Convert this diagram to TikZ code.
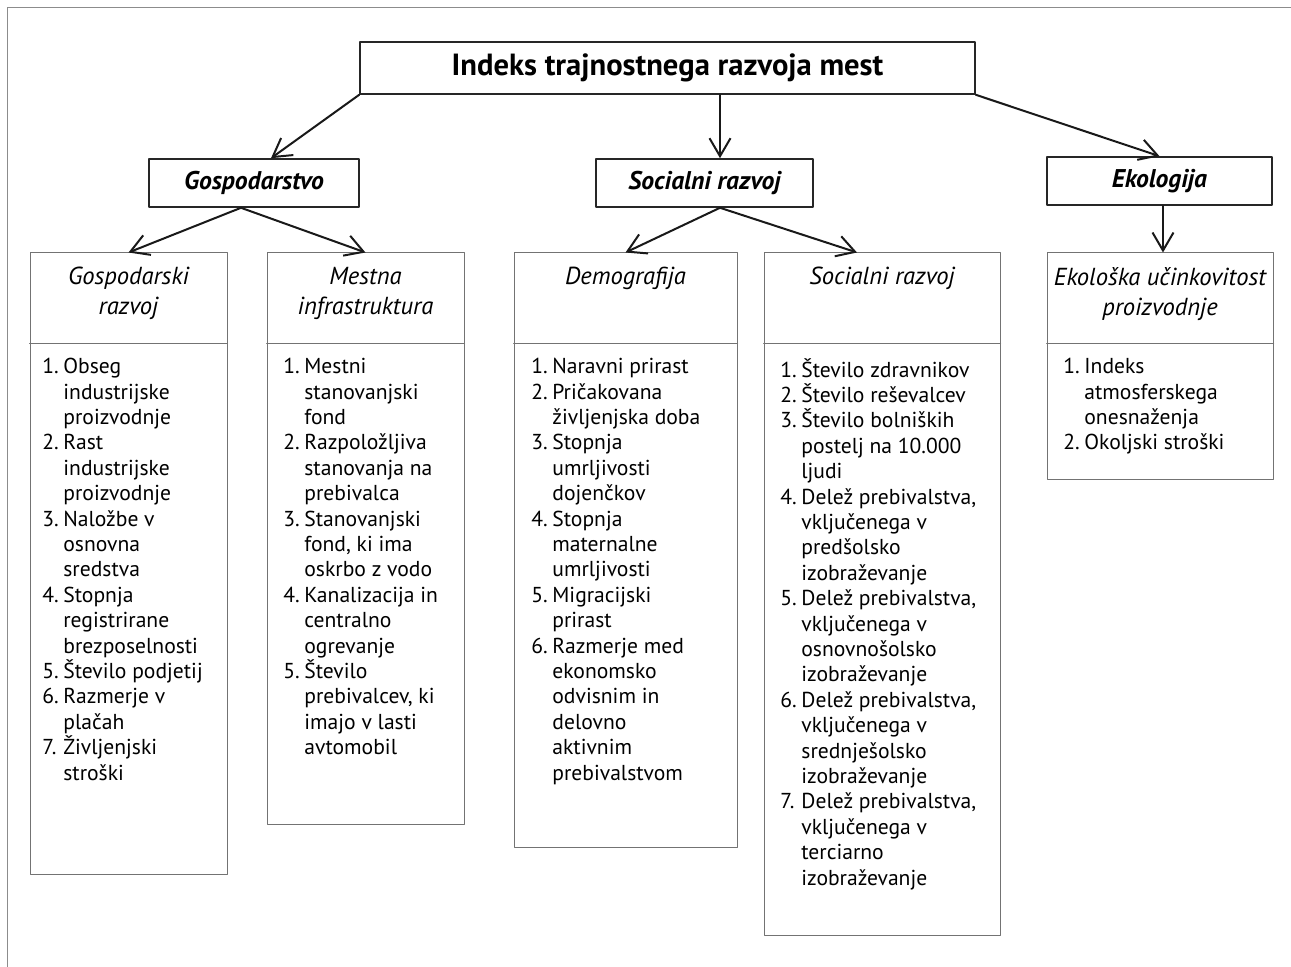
\documentclass[tikz,border=0pt]{standalone}
\usepackage{fontspec}
\setmainfont{PT Sans}
\usetikzlibrary{arrows.meta,fit}

\newcommand\nr[1]{\makebox[10.5pt][l]{#1}}
\newcommand\ind{\hspace*{10.5pt}}

\begin{document}
\begin{tikzpicture}[x=0.5pt,y=-0.5pt,line join=round,line cap=round,
    >={Straight Barb[length=9pt,width=10.5pt]}]
  \tikzset{
    title box/.style={draw=black!85,line width=0.8pt,inner sep=0pt,
      font=\bfseries\fontsize{15.3}{17}\selectfont},
    cat box/.style={draw=black!85,line width=0.8pt,inner sep=0pt,
      font=\bfseries\itshape\fontsize{12.8}{14}\selectfont},
    ind box/.style={draw=black!55,line width=0.5pt,inner sep=0pt},
    div line/.style={draw=black!55,line width=0.5pt},
    head/.style={anchor=north,align=center,inner sep=0pt,
      font=\itshape\fontsize{12.3}{15}\selectfont},
    list/.style={anchor=north west,align=left,inner sep=0pt,
      font=\fontsize{10.8}{12.7}\selectfont},
    arr/.style={->,line width=1pt,black!90}
  }
  \useasboundingbox (0,0) rectangle (1291,967);
  \draw[black!45,line width=0.5pt] (7,967) -- (7,8) -- (1291,8);

  % top levels
  \node[title box,minimum width=307.5pt,minimum height=26pt] (idx) at (667.5,68)
    {Indeks trajnostnega razvoja mest};
  \node[cat box,minimum width=105pt,minimum height=24pt] (gos) at (254,183) {Gospodarstvo};
  \node[cat box,minimum width=108.5pt,minimum height=24pt] (soc) at (704.5,183) {Socialni razvoj};
  \node[cat box,minimum width=112.5pt,minimum height=24pt] (eko) at (1159.5,181) {Ekologija};

  % indicator boxes
  \node[ind box,fit={(30,253) (227,874)}] (gr) {};
  \node[ind box,fit={(267,253) (464,824)}] (mi) {};
  \node[ind box,fit={(514,253) (737,847)}] (de) {};
  \node[ind box,fit={(764,253) (1000,935)}] (sr) {};
  \node[ind box,fit={(1047,253) (1273,480)}] (ep) {};
  \foreach \b in {gr,mi,de,sr,ep}
    \draw[div line] (\b.west |- 0,344) -- (\b.east |- 0,344);

  \node[head] (grh) at (128.5,267) {Gospodarski\\razvoj};
  \node[head] (mih) at (365.5,267) {Mestna\\infrastruktura};
  \node[head] (deh) at (625.5,267) {Demografija};
  \node[head] (srh) at (882,267) {Socialni razvoj};
  \node[head] (eph) at (1160,267) {Ekološka učinkovitost\\proizvodnje};

  \node[list] (grl) at (42,358) {\nr{1.}Obseg\\\ind industrijske\\\ind proizvodnje\\
    \nr{2.}Rast\\\ind industrijske\\\ind proizvodnje\\
    \nr{3.}Naložbe v\\\ind osnovna\\\ind sredstva\\
    \nr{4.}Stopnja\\\ind registrirane\\\ind brezposelnosti\\
    \nr{5.}Število podjetij\\
    \nr{6.}Razmerje v\\\ind plačah\\
    \nr{7.}Življenjski\\\ind stroški};
  \node[list] (mil) at (283,358) {\nr{1.}Mestni\\\ind stanovanjski\\\ind fond\\
    \nr{2.}Razpoložljiva\\\ind stanovanja na\\\ind prebivalca\\
    \nr{3.}Stanovanjski\\\ind fond, ki ima\\\ind oskrbo z vodo\\
    \nr{4.}Kanalizacija in\\\ind centralno\\\ind ogrevanje\\
    \nr{5.}Število\\\ind prebivalcev, ki\\\ind imajo v lasti\\\ind avtomobil};
  \node[list] (del) at (531,358) {\nr{1.}Naravni prirast\\
    \nr{2.}Pričakovana\\\ind življenjska doba\\
    \nr{3.}Stopnja\\\ind umrljivosti\\\ind dojenčkov\\
    \nr{4.}Stopnja\\\ind maternalne\\\ind umrljivosti\\
    \nr{5.}Migracijski\\\ind prirast\\
    \nr{6.}Razmerje med\\\ind ekonomsko\\\ind odvisnim in\\\ind delovno\\\ind aktivnim\\\ind prebivalstvom};
  \node[list] (srl) at (780,358) {\nr{1.}Število zdravnikov\\
    \nr{2.}Število reševalcev\\
    \nr{3.}Število bolniških\\\ind postelj na 10.000\\\ind ljudi\\
    \nr{4.}Delež prebivalstva,\\\ind vključenega v\\\ind predšolsko\\\ind izobraževanje\\
    \nr{5.}Delež prebivalstva,\\\ind vključenega v\\\ind osnovnošolsko\\\ind izobraževanje\\
    \nr{6.}Delež prebivalstva,\\\ind vključenega v\\\ind srednješolsko\\\ind izobraževanje\\
    \nr{7.}Delež prebivalstva,\\\ind vključenega v\\\ind terciarno\\\ind izobraževanje};
  \node[list] (epl) at (1063,358) {\nr{1.}Indeks\\\ind atmosferskega\\\ind onesnaženja\\
    \nr{2.}Okoljski stroški};

  % arrows
  \draw[arr] (idx.south west) -- ([xshift=8.5pt]gos.north);
  \draw[arr] ([xshift=26.25pt]idx.south) -- ([xshift=7.75pt]soc.north);
  \draw[arr] (idx.south east) -- (eko.north);
  \draw[arr] ([xshift=-6.5pt]gos.south) -- (gr.north);
  \draw[arr] ([xshift=-6.5pt]gos.south) -- (mi.north);
  \draw[arr] ([xshift=7.75pt]soc.south) -- (de.north);
  \draw[arr] ([xshift=7.75pt]soc.south) -- ([xshift=-12.5pt]sr.north);
  \draw[arr] ([xshift=1.75pt]eko.south) -- ([xshift=1.75pt]eko.south |- ep.north);
\end{tikzpicture}
\end{document}
